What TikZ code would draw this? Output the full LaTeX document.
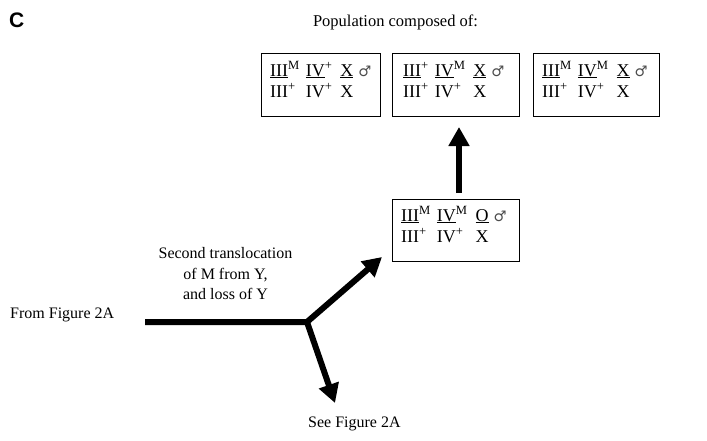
\documentclass[tikz,border=0pt]{standalone}
\usepackage{fontspec}
\setmainfont{Liberation Serif}
\newfontfamily\symfam{DejaVu Sans}
\newfontfamily\headfam{Liberation Sans}
\usetikzlibrary{arrows.meta}
\newcommand{\malesym}{{\symfam\fontsize{14.5}{14.5}\selectfont\color{black!70}♂}}
\newcommand{\sps}[1]{\textsuperscript{#1}}
\newcommand{\geno}[4]{\begin{tabular}[t]{@{}l@{\hspace{6pt}}l@{\hspace{8pt}}l@{\hspace{5pt}}l@{}}#1&#2&#3&\malesym\\#4\end{tabular}}
\begin{document}
\begin{tikzpicture}[x=1pt,y=-1pt,
  box/.style={draw, line width=0.9pt, minimum width=#1, minimum height=63pt, inner sep=0pt},
  boxtxt/.style={anchor=base west, inner sep=0pt, font=\fontsize{18}{21}\selectfont},
  lab/.style={anchor=base west, inner sep=0pt, font=\fontsize{16}{20}\selectfont},
  labc/.style={anchor=base, inner sep=0pt, font=\fontsize{16}{20}\selectfont},
  thick arrow/.style={line width=6pt, -{Triangle[length=19pt,width=20pt]}}]
\useasboundingbox (0,0) rectangle (707,440);

\node[anchor=base west, inner sep=0pt, font=\headfam\bfseries\fontsize{21}{21}\selectfont] (C) at (9,27) {C};
\node[labc, font=\fontsize{16.5}{20}\selectfont] (pop) at (395.5,26) {Population composed of:};

\node[box=119pt] (b1) at (320.5,84.5) {};
\node[box=127pt] (b2) at (455.5,84.5) {};
\node[box=126pt] (b3) at (596,84.5) {};
\node[box=127pt, minimum height=62pt] (bm) at (455.5,230) {};

\node[boxtxt] (t1) at (270,76) {\geno{\underline{III}\sps{M}}{\underline{IV}\sps{+}}{\underline{X}}{III\sps{+}&IV\sps{+}&X&}};
\node[boxtxt] (t2) at (403,76) {\geno{\underline{III}\sps{+}}{\underline{IV}\sps{M}}{\underline{X}}{III\sps{+}&IV\sps{+}&X&}};
\node[boxtxt] (t3) at (542,76) {\geno{\underline{III}\sps{M}}{\underline{IV}\sps{M}}{\underline{X}}{III\sps{+}&IV\sps{+}&X&}};
\node[boxtxt] (tm) at (401,221) {\geno{\underline{III}\sps{M}}{\underline{IV}\sps{M}}{\underline{O}}{III\sps{+}&IV\sps{+}&X&}};

\node[lab] (from) at (10,318) {From Figure 2A};
\node[lab] (see) at (308,427) {See Figure 2A};
\node[labc] (l1) at (225.5,258) {Second translocation};
\node[labc] (l2) at (225.5,279) {of M from Y,};
\node[labc] (l3) at (225.5,299) {and loss of Y};

\coordinate (start) at (145,322);
\coordinate (junc) at (307,322);
\coordinate (tipA) at (382,257);
\coordinate (tipB) at (335,403);
\coordinate (upbase) at (459,193);
\coordinate (uptip) at (459,127);

\draw[thick arrow] (start) -- (junc) -- (tipA);
\draw[thick arrow, line cap=round] (junc) -- (tipB);
\draw[thick arrow] (upbase) -- (uptip);
\end{tikzpicture}
\end{document}
